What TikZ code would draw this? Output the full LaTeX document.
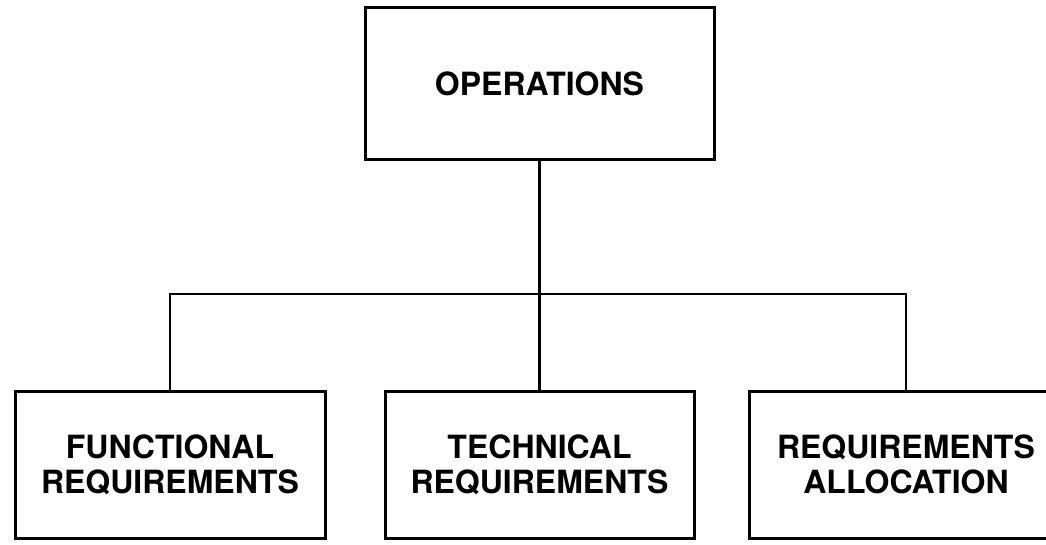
\documentclass[tikz,border=0pt]{standalone}
\usepackage{fontspec}
\setmainfont{TeX Gyre Heros}
\tikzset{
  box/.style={draw,line width=3pt,align=center,font=\bfseries\fontsize{32}{35}\selectfont},
  link/.style={line width=2.5pt}
}
\begin{document}
\begin{tikzpicture}[x=1pt,y=1pt]
  \useasboundingbox (0,0) rectangle (1046,544);
  % top box
  \node[box,minimum width=349pt,minimum height=152pt] (ops) at (539.5,460) {OPERATIONS};
  % bottom boxes
  \node[box,minimum width=310pt,minimum height=147pt] (func) at (170,79.5) {FUNCTIONAL\\REQUIREMENTS};
  \node[box,minimum width=309pt,minimum height=147pt] (tech) at (539.5,79.5) {TECHNICAL\\REQUIREMENTS};
  \node[box,minimum width=314pt,minimum height=147pt] (alloc) at (906,79.5) {REQUIREMENTS\\ALLOCATION};
  % branch level
  \coordinate (bus) at (539.5,250);
  \draw[link] (ops.south) -- (tech.north);
  \draw[link] (func.north) -- (func.north |- bus) -- (alloc.north |- bus) -- (alloc.north);
\end{tikzpicture}
\end{document}
